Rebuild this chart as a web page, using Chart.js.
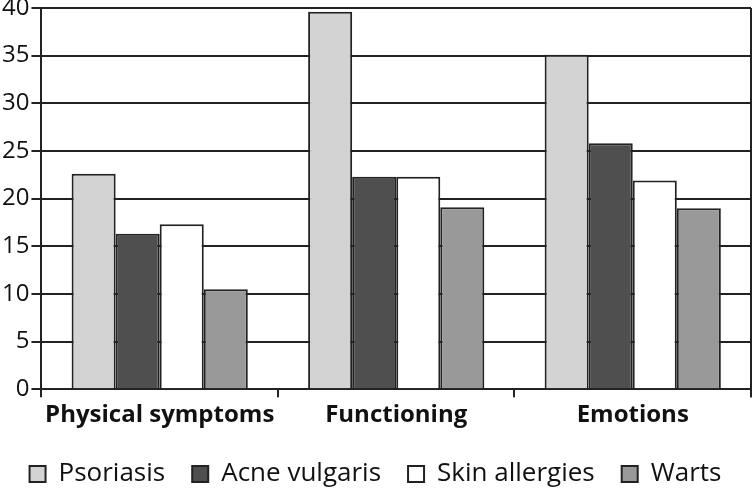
<!DOCTYPE html>
<html>
  <head>
    <title>Chart</title>
    <style>
      html, body { margin: 0; padding: 0; background: #fff; }
      #wrap { width: 753px; height: 488px; }
    </style>
  </head>
  <body>
    <div id="wrap"><canvas id="chart"></canvas></div>

    <script src="https://cdn.jsdelivr.net/npm/chart.js"></script>
    <script>
      // Datos del gráfico
      var categories = ["Physical symptoms", "Functioning", "Emotions"];
      var seriesNames = ["Psoriasis", "Acne vulgaris", "Skin allergies", "Warts"];
      var psoriasis = [22.6, 39.6, 35.1];
      var acneVulgaris = [16.3, 22.3, 25.8];
      var skinAllergies = [17.3, 22.3, 21.9];
      var warts = [10.5, 19.1, 19.0];
      var yTicks = [0, 5, 10, 15, 20, 25, 30, 35, 40];

      var fillColors = ["#d3d3d3", "#4f4f4f", "#ffffff", "#999999"];
      var fontFamily = "'Open Sans', sans-serif";

      // borde derecho del área del gráfico
      var rightBorder = {
        id: "rightBorder",
        afterDraw: function (chart) {
          var ctx = chart.ctx;
          var a = chart.chartArea;
          ctx.save();
          ctx.strokeStyle = "#222";
          ctx.lineWidth = 2;
          ctx.beginPath();
          ctx.moveTo(a.right, a.top);
          ctx.lineTo(a.right, a.bottom + 8);
          ctx.stroke();
          ctx.restore();
        },
      };

      var allData = [psoriasis, acneVulgaris, skinAllergies, warts];

      new Chart(document.getElementById("chart"), {
        type: "bar",
        data: {
          labels: categories,
          datasets: seriesNames.map(function (name, i) {
            return {
              label: name,
              data: allData[i],
              backgroundColor: fillColors[i],
              borderColor: "#222",
              borderWidth: 2,
              borderSkipped: "bottom",
              categoryPercentage: 0.745,
              barPercentage: 1.0,
            };
          }),
        },
        options: {
          responsive: true,
          maintainAspectRatio: false,
          animation: false,
          layout: { padding: { left: 0, right: 2, top: 8, bottom: -9 } },
          plugins: {
            tooltip: { enabled: false },
            legend: {
              position: "bottom",
              labels: {
                color: "#111",
                font: { family: fontFamily, size: 26 },
                boxWidth: 16,
                boxHeight: 16,
                padding: 27,
                useBorderRadius: false,
              },
            },
          },
          scales: {
            x: {
              grid: {
                display: true,
                drawOnChartArea: false,
                color: "#222",
                lineWidth: 2,
                tickLength: 8,
                offset: true,
              },
              border: { color: "#222", width: 2 },
              ticks: {
                color: "#111",
                font: { family: fontFamily, size: 24, weight: "bold" },
                padding: 4,
              },
            },
            y: {
              min: 0,
              max: 40,
              afterBuildTicks: function (axis) {
                axis.ticks = yTicks.map(function (v) {
                  return { value: v };
                });
              },
              // el "40" puede tocar el borde superior, como en el original
              afterFit: function (axis) {
                axis.paddingTop = 0;
              },
              grid: {
                color: "#222",
                lineWidth: 2,
                tickLength: 10,
              },
              border: { color: "#222", width: 2 },
              ticks: {
                color: "#111",
                font: { family: fontFamily, size: 24 },
                padding: 2,
              },
            },
          },
        },
        plugins: [rightBorder],
      });
    </script>
  </body>
</html>
